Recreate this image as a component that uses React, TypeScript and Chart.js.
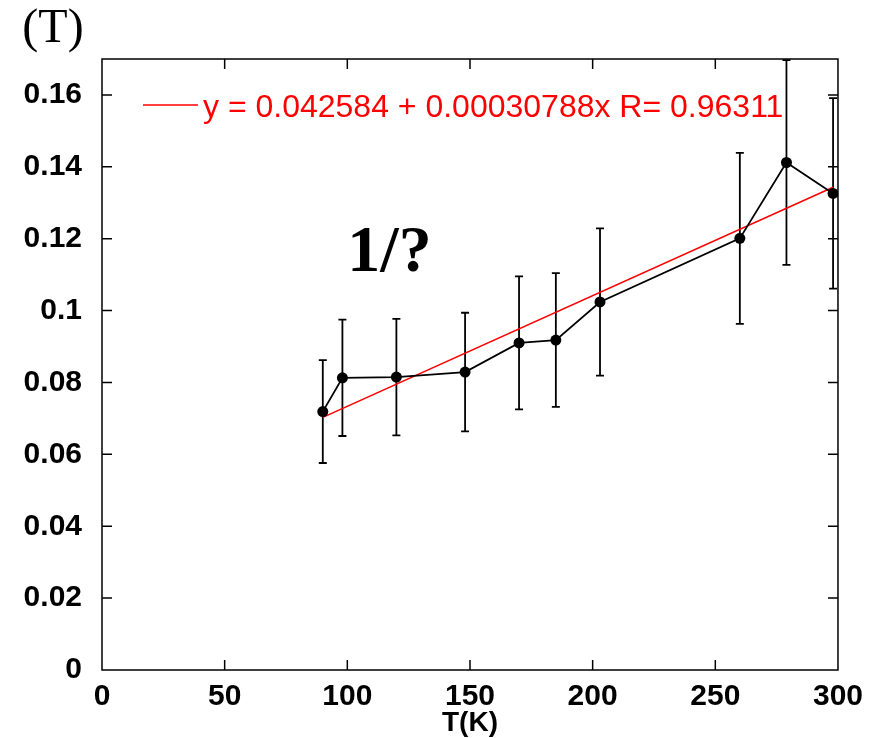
import React, { useEffect, useRef } from 'react';
import { Chart, registerables } from 'chart.js';

Chart.register(...registerables);

// Temperatures (K)
const temperatures = [90, 98, 120, 148, 170, 185, 203, 260, 279, 298];
// Measured values
const values = [0.0719, 0.0813, 0.0815, 0.0829, 0.091, 0.0918, 0.1024, 0.1201, 0.1412, 0.1326];
// Symmetric error bar half-heights
const errors = [0.0143, 0.0162, 0.0162, 0.0165, 0.0185, 0.0186, 0.0205, 0.0238, 0.0285, 0.0265];

// Linear fit
const fitIntercept = 0.042584;
const fitSlope = 0.00030788;
const fitRange = [90, 298];
const fitLabel = 'y = 0.042584 + 0.00030788x R= 0.96311';

// Axes
const xTicks = [0, 50, 100, 150, 200, 250, 300];
const yTicks = [0, 0.02, 0.04, 0.06, 0.08, 0.1, 0.12, 0.14, 0.16];
const xTitle = 'T(K)';
const yTitle = '(T)';
const annotationText = '1/?';
const annotationPos = { x: 100, y: 0.111 };

const framePlugin = {
  id: 'frame',
  beforeDatasetsDraw(chart: any) {
    const { ctx } = chart;
    const xs = chart.scales.x;
    const ys = chart.scales.y;
    ctx.save();
    ctx.strokeStyle = '#000';
    ctx.lineWidth = 1.8;
    temperatures.forEach((t, i) => {
      const px = xs.getPixelForValue(t);
      const top = ys.getPixelForValue(values[i] + errors[i]);
      const bot = ys.getPixelForValue(values[i] - errors[i]);
      ctx.beginPath();
      ctx.moveTo(px, top);
      ctx.lineTo(px, bot);
      ctx.moveTo(px - 4, top);
      ctx.lineTo(px + 4, top);
      ctx.moveTo(px - 4, bot);
      ctx.lineTo(px + 4, bot);
      ctx.stroke();
    });
    ctx.restore();
  },
  afterDraw(chart: any) {
    const { ctx, chartArea } = chart;
    const xs = chart.scales.x;
    const ys = chart.scales.y;
    const { left, right, top, bottom } = chartArea;
    ctx.save();
    ctx.strokeStyle = '#000';
    ctx.lineWidth = 1.5;
    ctx.strokeRect(left, top, right - left, bottom - top);
    const tl = 10;
    ctx.beginPath();
    xTicks.forEach((v) => {
      if (v === xs.min || v === xs.max) return;
      const px = xs.getPixelForValue(v);
      ctx.moveTo(px, bottom);
      ctx.lineTo(px, bottom - tl);
      ctx.moveTo(px, top);
      ctx.lineTo(px, top + tl);
    });
    yTicks.forEach((v) => {
      if (v === ys.min) return;
      const py = ys.getPixelForValue(v);
      ctx.moveTo(left, py);
      ctx.lineTo(left + tl, py);
      ctx.moveTo(right, py);
      ctx.lineTo(right - tl, py);
    });
    ctx.stroke();

    // y title
    ctx.fillStyle = '#000';
    ctx.font = '48px "Liberation Serif", serif';
    ctx.textAlign = 'center';
    ctx.textBaseline = 'alphabetic';
    ctx.fillText(yTitle, 53, 42);

    // x title
    ctx.font = 'bold 28px "Liberation Sans", Arial, sans-serif';
    ctx.fillText(xTitle, (left + right) / 2, 731);

    // legend
    ctx.strokeStyle = '#ff0000';
    ctx.lineWidth = 1.5;
    ctx.beginPath();
    ctx.moveTo(143, 105);
    ctx.lineTo(198, 105);
    ctx.stroke();
    ctx.fillStyle = '#ff0000';
    ctx.font = '32px "Liberation Sans", Arial, sans-serif';
    ctx.textAlign = 'left';
    ctx.fillText(fitLabel, 203, 117);

    // annotation
    ctx.fillStyle = '#000';
    ctx.font = 'bold 66px "Liberation Serif", serif';
    ctx.fillText(annotationText, xs.getPixelForValue(annotationPos.x), ys.getPixelForValue(annotationPos.y));
    ctx.restore();
  },
};

export default function App() {
  const ref = useRef<HTMLCanvasElement>(null);
  useEffect(() => {
    document.body.style.margin = '0';
    const chart = new Chart(ref.current as HTMLCanvasElement, {
      type: 'line',
      data: {
        datasets: [
          {
            label: 'data',
            data: temperatures.map((t, i) => ({ x: t, y: values[i] })),
            borderColor: '#000',
            backgroundColor: '#000',
            borderWidth: 1.8,
            pointRadius: 5.5,
            pointBackgroundColor: '#000',
            pointBorderWidth: 0,
            tension: 0,
          },
          {
            label: 'fit',
            data: fitRange.map((t) => ({ x: t, y: fitIntercept + fitSlope * t })),
            borderColor: '#ff0000',
            borderWidth: 1.6,
            pointRadius: 0,
            tension: 0,
          },
        ],
      },
      options: {
        responsive: false,
        animation: false,
        layout: { padding: { left: 0, right: 30, top: 59, bottom: 0 } },
        plugins: { legend: { display: false }, tooltip: { enabled: false } },
        scales: {
          x: {
            type: 'linear',
            min: 0,
            max: 300,
            afterBuildTicks: (s: any) => {
              s.ticks = xTicks.map((v) => ({ value: v }));
            },
            ticks: {
              font: { family: '"Liberation Sans", Arial, sans-serif', size: 30, weight: 'bold' },
              color: '#000',
              padding: 9,
              maxRotation: 0,
              autoSkip: false,
            },
            grid: { display: false, drawTicks: false },
            border: { display: false },
            afterFit: (s: any) => {
              s.height = 68;
            },
          },
          y: {
            type: 'linear',
            min: 0,
            max: 0.17,
            afterBuildTicks: (s: any) => {
              s.ticks = yTicks.map((v) => ({ value: v }));
            },
            ticks: {
              font: { family: '"Liberation Sans", Arial, sans-serif', size: 30, weight: 'bold' },
              color: '#000',
              padding: 20,
              autoSkip: false,
              callback: (v: any) => String(Number(Number(v).toFixed(2))),
            },
            grid: { display: false, drawTicks: false },
            border: { display: false },
            afterFit: (s: any) => {
              s.width = 102;
            },
          },
        },
      },
      plugins: [framePlugin],
    });
    return () => chart.destroy();
  }, []);
  return (
    <div style={{ position: 'absolute', left: 0, top: 0, width: 872, height: 738, background: '#fff' }}>
      <canvas ref={ref} width={872} height={738} style={{ width: 872, height: 738 }} />
    </div>
  );
}
